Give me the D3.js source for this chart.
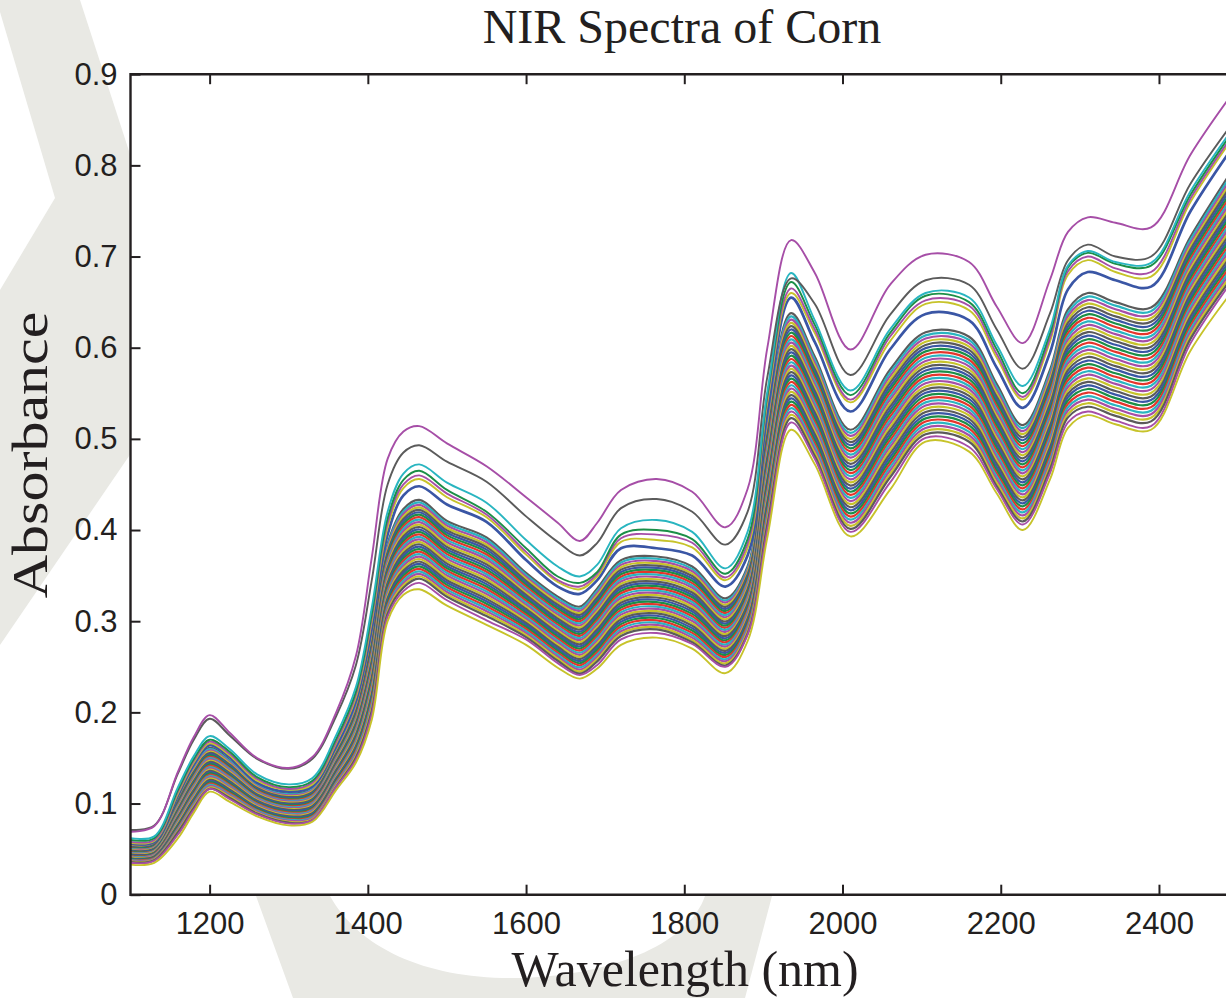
<!DOCTYPE html>
<html>
<head>
<meta charset="utf-8">
<script src="https://cdn.jsdelivr.net/npm/d3@7"></script>
<style>
  body { margin: 0; background: #fff; }
  svg { display: block; }
</style>
</head>
<body>
<div id="chart"></div>
<script>

var wavelengths = [1100,1130,1160,1180,1200,1225,1260,1300,1330,1360,1385,1405,1425,1445,1465,1500,1550,1600,1640,1668,1690,1720,1765,1810,1852,1880,1905,1935,1965,2010,2060,2105,2160,2195,2228,2262,2285,2310,2345,2390,2440,2498];

// the separated spectra at the top
var spec01 = [0.069,0.075,0.135,0.173,0.197,0.178,0.150,0.139,0.151,0.200,0.262,0.370,0.478,0.508,0.514,0.495,0.470,0.436,0.408,0.388,0.408,0.444,0.456,0.442,0.403,0.445,0.600,0.718,0.682,0.598,0.669,0.702,0.694,0.645,0.605,0.674,0.727,0.743,0.737,0.732,0.812,0.885];
var spec02 = [0.071,0.076,0.133,0.170,0.193,0.175,0.149,0.138,0.149,0.196,0.252,0.345,0.450,0.485,0.493,0.475,0.453,0.415,0.387,0.372,0.386,0.424,0.434,0.420,0.384,0.420,0.568,0.676,0.648,0.570,0.636,0.674,0.669,0.620,0.577,0.637,0.696,0.713,0.700,0.700,0.780,0.852];
var spec03 = [0.062,0.064,0.118,0.152,0.174,0.160,0.132,0.121,0.128,0.175,0.228,0.315,0.420,0.462,0.472,0.452,0.430,0.389,0.360,0.349,0.362,0.402,0.411,0.398,0.358,0.398,0.552,0.682,0.630,0.553,0.620,0.660,0.655,0.603,0.558,0.620,0.690,0.706,0.694,0.693,0.772,0.846];
var spec04 = [0.060,0.062,0.115,0.149,0.170,0.157,0.129,0.118,0.125,0.171,0.223,0.308,0.413,0.455,0.465,0.444,0.420,0.380,0.349,0.342,0.354,0.395,0.400,0.390,0.352,0.390,0.548,0.672,0.625,0.548,0.616,0.657,0.650,0.598,0.550,0.615,0.688,0.704,0.692,0.690,0.768,0.843];
var spec05 = [0.058,0.060,0.113,0.147,0.168,0.155,0.127,0.116,0.123,0.168,0.220,0.304,0.408,0.450,0.460,0.440,0.417,0.376,0.345,0.338,0.352,0.391,0.395,0.386,0.348,0.385,0.545,0.665,0.620,0.543,0.612,0.652,0.646,0.593,0.546,0.610,0.684,0.700,0.687,0.683,0.764,0.839];
var spec06 = [0.057,0.059,0.111,0.145,0.166,0.153,0.125,0.115,0.121,0.166,0.217,0.300,0.403,0.446,0.456,0.436,0.414,0.373,0.343,0.335,0.349,0.387,0.389,0.381,0.345,0.380,0.540,0.660,0.616,0.540,0.607,0.648,0.641,0.589,0.543,0.606,0.680,0.696,0.683,0.678,0.760,0.836];
var spec07 = [0.056,0.058,0.109,0.143,0.164,0.151,0.123,0.113,0.119,0.163,0.213,0.293,0.395,0.438,0.448,0.428,0.409,0.367,0.338,0.330,0.345,0.380,0.380,0.372,0.338,0.372,0.530,0.655,0.606,0.530,0.598,0.637,0.630,0.578,0.534,0.594,0.664,0.683,0.674,0.667,0.750,0.826];

// the dense band, top to bottom
var spec08 = [0.055,0.057,0.107,0.140,0.161,0.148,0.121,0.111,0.117,0.160,0.208,0.285,0.385,0.423,0.433,0.410,0.392,0.353,0.327,0.316,0.336,0.367,0.371,0.360,0.325,0.360,0.518,0.638,0.590,0.510,0.576,0.617,0.612,0.560,0.515,0.575,0.642,0.660,0.650,0.644,0.722,0.802];
var spec09 = [0.0544,0.0564,0.1058,0.1386,0.1596,0.1467,0.1200,0.1100,0.1159,0.1587,0.2062,0.2824,0.3826,0.4203,0.4303,0.4074,0.3893,0.3508,0.3248,0.3137,0.3335,0.3644,0.3685,0.3574,0.3227,0.3577,0.5145,0.6344,0.5866,0.5066,0.5723,0.6135,0.6084,0.5565,0.5117,0.5716,0.6383,0.6561,0.6461,0.6401,0.7185,0.7983];
var spec10 = [0.0538,0.0558,0.1046,0.1372,0.1582,0.1454,0.1190,0.1090,0.1148,0.1574,0.2044,0.2798,0.3802,0.4176,0.4276,0.4048,0.3866,0.3486,0.3226,0.3114,0.3310,0.3618,0.3660,0.3548,0.3204,0.3554,0.5110,0.6308,0.5832,0.5032,0.5686,0.6100,0.6048,0.5530,0.5084,0.5682,0.6346,0.6522,0.6422,0.6362,0.7150,0.7946];
var spec11 = [0.0532,0.0552,0.1034,0.1358,0.1568,0.1441,0.1180,0.1080,0.1137,0.1561,0.2026,0.2772,0.3778,0.4149,0.4249,0.4022,0.3839,0.3464,0.3204,0.3091,0.3285,0.3592,0.3635,0.3522,0.3181,0.3531,0.5075,0.6272,0.5798,0.4998,0.5649,0.6065,0.6012,0.5495,0.5051,0.5648,0.6309,0.6483,0.6383,0.6323,0.7115,0.7909];
var spec12 = [0.0526,0.0546,0.1022,0.1344,0.1554,0.1428,0.1170,0.1070,0.1126,0.1548,0.2008,0.2746,0.3754,0.4122,0.4222,0.3996,0.3812,0.3442,0.3182,0.3068,0.3260,0.3566,0.3610,0.3496,0.3158,0.3508,0.5040,0.6236,0.5764,0.4964,0.5612,0.6030,0.5976,0.5460,0.5018,0.5614,0.6272,0.6444,0.6344,0.6284,0.7080,0.7872];
var spec13 = [0.0520,0.0540,0.1010,0.1330,0.1540,0.1415,0.1160,0.1060,0.1115,0.1535,0.1990,0.2720,0.3730,0.4095,0.4195,0.3970,0.3785,0.3420,0.3160,0.3045,0.3235,0.3540,0.3585,0.3470,0.3135,0.3485,0.5005,0.6200,0.5730,0.4930,0.5575,0.5995,0.5940,0.5425,0.4985,0.5580,0.6235,0.6405,0.6305,0.6245,0.7045,0.7835];
var spec14 = [0.0514,0.0534,0.0998,0.1316,0.1526,0.1402,0.1150,0.1050,0.1104,0.1522,0.1972,0.2694,0.3706,0.4068,0.4168,0.3944,0.3758,0.3398,0.3138,0.3022,0.3210,0.3514,0.3560,0.3444,0.3112,0.3462,0.4970,0.6164,0.5696,0.4896,0.5538,0.5960,0.5904,0.5390,0.4952,0.5546,0.6198,0.6366,0.6266,0.6206,0.7010,0.7798];
var spec15 = [0.0508,0.0528,0.0986,0.1302,0.1512,0.1389,0.1140,0.1040,0.1093,0.1509,0.1954,0.2668,0.3682,0.4041,0.4141,0.3918,0.3731,0.3376,0.3116,0.2999,0.3185,0.3488,0.3535,0.3418,0.3089,0.3439,0.4935,0.6128,0.5662,0.4862,0.5501,0.5925,0.5868,0.5355,0.4919,0.5512,0.6161,0.6327,0.6227,0.6167,0.6975,0.7761];
var spec16 = [0.0502,0.0522,0.0974,0.1288,0.1498,0.1376,0.1130,0.1030,0.1082,0.1496,0.1936,0.2642,0.3658,0.4014,0.4114,0.3892,0.3704,0.3354,0.3094,0.2976,0.3160,0.3462,0.3510,0.3392,0.3066,0.3416,0.4900,0.6092,0.5628,0.4828,0.5464,0.5890,0.5832,0.5320,0.4886,0.5478,0.6124,0.6288,0.6188,0.6128,0.6940,0.7724];
var spec17 = [0.0496,0.0516,0.0962,0.1274,0.1484,0.1363,0.1120,0.1020,0.1071,0.1483,0.1918,0.2616,0.3634,0.3987,0.4087,0.3866,0.3677,0.3332,0.3072,0.2953,0.3135,0.3436,0.3485,0.3366,0.3043,0.3393,0.4865,0.6056,0.5594,0.4794,0.5427,0.5855,0.5796,0.5285,0.4853,0.5444,0.6087,0.6249,0.6149,0.6089,0.6905,0.7687];
var spec18 = [0.0490,0.0510,0.0950,0.1260,0.1470,0.1350,0.1110,0.1010,0.1060,0.1470,0.1900,0.2590,0.3610,0.3960,0.4060,0.3840,0.3650,0.3310,0.3050,0.2930,0.3110,0.3410,0.3460,0.3340,0.3020,0.3370,0.4830,0.6020,0.5560,0.4760,0.5390,0.5820,0.5760,0.5250,0.4820,0.5410,0.6050,0.6210,0.6110,0.6050,0.6870,0.7650];
var spec19 = [0.0484,0.0504,0.0938,0.1246,0.1456,0.1337,0.1100,0.1000,0.1049,0.1457,0.1882,0.2564,0.3586,0.3933,0.4033,0.3814,0.3623,0.3288,0.3028,0.2907,0.3085,0.3384,0.3435,0.3314,0.2997,0.3347,0.4795,0.5984,0.5526,0.4726,0.5353,0.5785,0.5724,0.5215,0.4787,0.5376,0.6013,0.6171,0.6071,0.6011,0.6835,0.7613];
var spec20 = [0.0478,0.0498,0.0926,0.1232,0.1442,0.1324,0.1090,0.0990,0.1038,0.1444,0.1864,0.2538,0.3562,0.3906,0.4006,0.3788,0.3596,0.3266,0.3006,0.2884,0.3060,0.3358,0.3410,0.3288,0.2974,0.3324,0.4760,0.5948,0.5492,0.4692,0.5316,0.5750,0.5688,0.5180,0.4754,0.5342,0.5976,0.6132,0.6032,0.5972,0.6800,0.7576];
var spec21 = [0.0472,0.0492,0.0914,0.1218,0.1428,0.1311,0.1080,0.0980,0.1027,0.1431,0.1846,0.2512,0.3538,0.3879,0.3979,0.3762,0.3569,0.3244,0.2984,0.2861,0.3035,0.3332,0.3385,0.3262,0.2951,0.3301,0.4725,0.5912,0.5458,0.4658,0.5279,0.5715,0.5652,0.5145,0.4721,0.5308,0.5939,0.6093,0.5993,0.5933,0.6765,0.7539];
var spec22 = [0.0466,0.0486,0.0902,0.1204,0.1414,0.1298,0.1070,0.0970,0.1016,0.1418,0.1828,0.2486,0.3514,0.3852,0.3952,0.3736,0.3542,0.3222,0.2962,0.2838,0.3010,0.3306,0.3360,0.3236,0.2928,0.3278,0.4690,0.5876,0.5424,0.4624,0.5242,0.5680,0.5616,0.5110,0.4688,0.5274,0.5902,0.6054,0.5954,0.5894,0.6730,0.7502];
var spec23 = [0.0460,0.0480,0.0890,0.1190,0.1400,0.1285,0.1060,0.0960,0.1005,0.1405,0.1810,0.2460,0.3490,0.3825,0.3925,0.3710,0.3515,0.3200,0.2940,0.2815,0.2985,0.3280,0.3335,0.3210,0.2905,0.3255,0.4655,0.5840,0.5390,0.4590,0.5205,0.5645,0.5580,0.5075,0.4655,0.5240,0.5865,0.6015,0.5915,0.5855,0.6695,0.7465];
var spec24 = [0.0454,0.0474,0.0878,0.1176,0.1386,0.1272,0.1050,0.0950,0.0994,0.1392,0.1792,0.2434,0.3466,0.3798,0.3898,0.3684,0.3488,0.3178,0.2918,0.2792,0.2960,0.3254,0.3310,0.3184,0.2882,0.3232,0.4620,0.5804,0.5356,0.4556,0.5168,0.5610,0.5544,0.5040,0.4622,0.5206,0.5828,0.5976,0.5876,0.5816,0.6660,0.7428];
var spec25 = [0.0448,0.0468,0.0866,0.1162,0.1372,0.1259,0.1040,0.0940,0.0983,0.1379,0.1774,0.2408,0.3442,0.3771,0.3871,0.3658,0.3461,0.3156,0.2896,0.2769,0.2935,0.3228,0.3285,0.3158,0.2859,0.3209,0.4585,0.5768,0.5322,0.4522,0.5131,0.5575,0.5508,0.5005,0.4589,0.5172,0.5791,0.5937,0.5837,0.5777,0.6625,0.7391];
var spec26 = [0.0442,0.0462,0.0854,0.1148,0.1358,0.1246,0.1030,0.0930,0.0972,0.1366,0.1756,0.2382,0.3418,0.3744,0.3844,0.3632,0.3434,0.3134,0.2874,0.2746,0.2910,0.3202,0.3260,0.3132,0.2836,0.3186,0.4550,0.5732,0.5288,0.4488,0.5094,0.5540,0.5472,0.4970,0.4556,0.5138,0.5754,0.5898,0.5798,0.5738,0.6590,0.7354];
var spec27 = [0.0436,0.0456,0.0842,0.1134,0.1344,0.1233,0.1020,0.0920,0.0961,0.1353,0.1738,0.2356,0.3394,0.3717,0.3817,0.3606,0.3407,0.3112,0.2852,0.2723,0.2885,0.3176,0.3235,0.3106,0.2813,0.3163,0.4515,0.5696,0.5254,0.4454,0.5057,0.5505,0.5436,0.4935,0.4523,0.5104,0.5717,0.5859,0.5759,0.5699,0.6555,0.7317];
var spec28 = [0.0430,0.0450,0.0830,0.1120,0.1330,0.1220,0.1010,0.0910,0.0950,0.1340,0.1720,0.2330,0.3370,0.3690,0.3790,0.3580,0.3380,0.3090,0.2830,0.2700,0.2860,0.3150,0.3210,0.3080,0.2790,0.3140,0.4480,0.5660,0.5220,0.4420,0.5020,0.5470,0.5400,0.4900,0.4490,0.5070,0.5680,0.5820,0.5720,0.5660,0.6520,0.7280];
var spec29 = [0.0424,0.0444,0.0818,0.1106,0.1316,0.1207,0.1000,0.0900,0.0939,0.1327,0.1702,0.2304,0.3346,0.3663,0.3763,0.3554,0.3353,0.3068,0.2808,0.2677,0.2835,0.3124,0.3185,0.3054,0.2767,0.3117,0.4445,0.5624,0.5186,0.4386,0.4983,0.5435,0.5364,0.4865,0.4457,0.5036,0.5643,0.5781,0.5681,0.5621,0.6485,0.7243];
var spec30 = [0.0418,0.0438,0.0806,0.1092,0.1302,0.1194,0.0990,0.0890,0.0928,0.1314,0.1684,0.2278,0.3322,0.3636,0.3736,0.3528,0.3326,0.3046,0.2786,0.2654,0.2810,0.3098,0.3160,0.3028,0.2744,0.3094,0.4410,0.5588,0.5152,0.4352,0.4946,0.5400,0.5328,0.4830,0.4424,0.5002,0.5606,0.5742,0.5642,0.5582,0.6450,0.7206];
var spec31 = [0.0412,0.0432,0.0794,0.1078,0.1288,0.1181,0.0980,0.0880,0.0917,0.1301,0.1666,0.2252,0.3298,0.3609,0.3709,0.3502,0.3299,0.3024,0.2764,0.2631,0.2785,0.3072,0.3135,0.3002,0.2721,0.3071,0.4375,0.5552,0.5118,0.4318,0.4909,0.5365,0.5292,0.4795,0.4391,0.4968,0.5569,0.5703,0.5603,0.5543,0.6415,0.7169];
var spec32 = [0.0406,0.0426,0.0782,0.1064,0.1274,0.1168,0.0970,0.0870,0.0906,0.1288,0.1648,0.2226,0.3274,0.3582,0.3682,0.3476,0.3272,0.3002,0.2742,0.2608,0.2760,0.3046,0.3110,0.2976,0.2698,0.3048,0.4340,0.5516,0.5084,0.4284,0.4872,0.5330,0.5256,0.4760,0.4358,0.4934,0.5532,0.5664,0.5564,0.5504,0.6380,0.7132];
var spec33 = [0.0400,0.0420,0.0770,0.1050,0.1260,0.1155,0.0960,0.0860,0.0895,0.1275,0.1630,0.2200,0.3250,0.3555,0.3655,0.3450,0.3245,0.2980,0.2720,0.2585,0.2735,0.3020,0.3085,0.2950,0.2675,0.3025,0.4305,0.5480,0.5050,0.4250,0.4835,0.5295,0.5220,0.4725,0.4325,0.4900,0.5495,0.5625,0.5525,0.5465,0.6345,0.7095];
var spec34 = [0.0394,0.0414,0.0758,0.1036,0.1246,0.1142,0.0950,0.0850,0.0884,0.1262,0.1612,0.2174,0.3226,0.3528,0.3628,0.3424,0.3218,0.2958,0.2698,0.2562,0.2710,0.2994,0.3060,0.2924,0.2652,0.3002,0.4270,0.5444,0.5016,0.4216,0.4798,0.5260,0.5184,0.4690,0.4292,0.4866,0.5458,0.5586,0.5486,0.5426,0.6310,0.7058];
var spec35 = [0.0388,0.0408,0.0746,0.1022,0.1232,0.1129,0.0940,0.0840,0.0873,0.1249,0.1594,0.2148,0.3202,0.3501,0.3601,0.3398,0.3191,0.2936,0.2676,0.2539,0.2685,0.2968,0.3035,0.2898,0.2629,0.2979,0.4235,0.5408,0.4982,0.4182,0.4761,0.5225,0.5148,0.4655,0.4259,0.4832,0.5421,0.5547,0.5447,0.5387,0.6275,0.7021];
var spec36 = [0.0382,0.0402,0.0734,0.1008,0.1218,0.1116,0.0930,0.0830,0.0862,0.1236,0.1576,0.2122,0.3178,0.3474,0.3574,0.3372,0.3164,0.2914,0.2654,0.2516,0.2660,0.2942,0.3010,0.2872,0.2606,0.2956,0.4200,0.5372,0.4948,0.4148,0.4724,0.5190,0.5112,0.4620,0.4226,0.4798,0.5384,0.5508,0.5408,0.5348,0.6240,0.6984];
var spec37 = [0.0376,0.0396,0.0722,0.0994,0.1204,0.1103,0.0920,0.0820,0.0851,0.1223,0.1558,0.2096,0.3154,0.3447,0.3547,0.3346,0.3137,0.2892,0.2632,0.2493,0.2635,0.2916,0.2985,0.2846,0.2583,0.2933,0.4165,0.5336,0.4914,0.4114,0.4687,0.5155,0.5076,0.4585,0.4193,0.4764,0.5347,0.5469,0.5369,0.5309,0.6205,0.6947];
var spec38 = [0.0370,0.0390,0.0710,0.0980,0.1190,0.1090,0.0910,0.0810,0.0840,0.1210,0.1540,0.2070,0.3130,0.3420,0.3520,0.3320,0.3110,0.2870,0.2610,0.2470,0.2610,0.2890,0.2960,0.2820,0.2560,0.2910,0.4130,0.5300,0.4880,0.4080,0.4650,0.5120,0.5040,0.4550,0.4160,0.4730,0.5310,0.5430,0.5330,0.5270,0.6170,0.6910];
var spec39 = [0.0364,0.0384,0.0698,0.0966,0.1176,0.1077,0.0900,0.0800,0.0829,0.1197,0.1522,0.2044,0.3106,0.3393,0.3493,0.3294,0.3083,0.2848,0.2588,0.2447,0.2585,0.2864,0.2935,0.2794,0.2537,0.2887,0.4095,0.5264,0.4846,0.4046,0.4613,0.5085,0.5004,0.4515,0.4127,0.4696,0.5273,0.5391,0.5291,0.5231,0.6135,0.6873];
var spec40 = [0.0358,0.0378,0.0686,0.0952,0.1162,0.1064,0.0890,0.0790,0.0818,0.1184,0.1504,0.2018,0.3082,0.3366,0.3466,0.3268,0.3056,0.2826,0.2566,0.2424,0.2560,0.2838,0.2910,0.2768,0.2514,0.2864,0.4060,0.5228,0.4812,0.4012,0.4576,0.5050,0.4968,0.4480,0.4094,0.4662,0.5236,0.5352,0.5252,0.5192,0.6100,0.6836];

// the two lowest spectra
var spec41 = [0.035,0.037,0.066,0.093,0.116,0.105,0.088,0.078,0.082,0.118,0.148,0.198,0.305,0.333,0.342,0.323,0.301,0.280,0.254,0.241,0.252,0.280,0.287,0.275,0.250,0.285,0.400,0.518,0.478,0.398,0.452,0.501,0.491,0.445,0.406,0.462,0.518,0.530,0.520,0.514,0.605,0.680];
var spec42 = [0.033,0.035,0.062,0.090,0.113,0.102,0.086,0.076,0.080,0.115,0.145,0.192,0.300,0.329,0.335,0.317,0.296,0.274,0.249,0.237,0.248,0.274,0.282,0.270,0.243,0.278,0.392,0.510,0.472,0.393,0.444,0.497,0.486,0.440,0.400,0.455,0.512,0.526,0.516,0.510,0.597,0.668];

var xTicks = [1200, 1400, 1600, 1800, 2000, 2200, 2400];
var yTicks = [0, 0.1, 0.2, 0.3, 0.4, 0.5, 0.6, 0.7, 0.8, 0.9];

// matlab style colour order
var blue = "#3a56a5", green = "#1b8f47", red = "#e5352c", cyan = "#29b5c0",
    magenta = "#a64ea7", yellow = "#c7c32a", black = "#5b5b5b";
var colorOrder = [blue, green, red, cyan, magenta, yellow, black];

var bandLines = [spec08, spec09, spec10, spec11, spec12, spec13, spec14, spec15, spec16, spec17,
                 spec18, spec19, spec20, spec21, spec22, spec23, spec24, spec25, spec26, spec27,
                 spec28, spec29, spec30, spec31, spec32, spec33, spec34, spec35, spec36, spec37,
                 spec38, spec39, spec40];

var series = [];
bandLines.forEach(function(s, i) {
  series.push({values: s, color: i == 0 ? black : colorOrder[(i + 2) % 7], w: 2.2});
});
series.push({values: spec41, color: magenta, w: 1.9});
series.push({values: spec42, color: yellow, w: 1.9});
series.push({values: spec07, color: blue, w: 2.7});
series.push({values: spec06, color: yellow, w: 1.9});
series.push({values: spec05, color: magenta, w: 1.9});
series.push({values: spec04, color: green, w: 1.9});
series.push({values: spec03, color: cyan, w: 1.9});
series.push({values: spec02, color: black, w: 1.9});
series.push({values: spec01, color: magenta, w: 1.9});

var W = 1226, H = 998;
var plotL = 130.5, plotR = 1236.5, plotT = 74.2, plotB = 894.7;
var ink = "#231f20";

var svg = d3.select("#chart").append("svg")
    .attr("width", W)
    .attr("height", H);

svg.append("rect").attr("width", W).attr("height", H).attr("fill", "#fff");

// faint logo behind the figure
svg.append("path")
    .attr("d", "M0,0 L80,0 L140,185 L140,440 L0,645 L0,290 L55,198 L0,12 Z")
    .attr("fill", "#e9e9e4");
svg.append("path")
    .attr("d", "M256,896 L293,998 L745,998 L772,896 L705,896 C690,940 620,975 520,978 C430,980 360,950 330,896 Z")
    .attr("fill", "#e9e9e4");

// white axes background
svg.append("rect")
    .attr("x", plotL).attr("y", plotT)
    .attr("width", plotR - plotL).attr("height", plotB - plotT)
    .attr("fill", "#fff");

var x = d3.scaleLinear().domain([1100, 2498]).range([plotL, plotR]);
var y = d3.scaleLinear().domain([0, 0.9]).range([plotB, plotT]);

svg.append("clipPath").attr("id", "plotClip")
  .append("rect")
    .attr("x", plotL).attr("y", plotT)
    .attr("width", plotR - plotL).attr("height", plotB - plotT);

var line = d3.line()
    .x(function(d, i) { return x(wavelengths[i]); })
    .y(function(d) { return y(d); })
    .curve(d3.curveCatmullRom.alpha(0.5));

svg.append("g")
    .attr("clip-path", "url(#plotClip)")
  .selectAll("path")
  .data(series)
  .enter()
  .append("path")
    .attr("d", function(d) { return line(d.values); })
    .attr("fill", "none")
    .attr("stroke", function(d) { return d.color; })
    .attr("stroke-width", function(d) { return d.w; })
    .attr("stroke-linejoin", "round");

// axes, ticks point inwards
var yAxis = svg.append("g")
    .attr("transform", "translate(" + plotL + ",0)")
    .call(d3.axisLeft(y).tickValues(yTicks).tickSize(-10).tickPadding(13)
      .tickFormat(function(d) { return d === 0 ? "0" : d3.format(".1f")(d); }));

var xAxis = svg.append("g")
    .attr("transform", "translate(0," + plotB + ")")
    .call(d3.axisBottom(x).tickValues(xTicks).tickSize(-10).tickPadding(17)
      .tickFormat(d3.format("d")));

var xTop = svg.append("g")
    .attr("transform", "translate(0," + plotT + ")")
    .call(d3.axisTop(x).tickValues(xTicks).tickSize(-10).tickFormat(""));

[yAxis, xAxis, xTop].forEach(function(a) {
  a.select(".domain").remove();
  a.selectAll(".tick line").attr("stroke", ink).attr("stroke-width", 2);
  a.selectAll(".tick text")
    .attr("fill", ink)
    .style("font-family", "'Liberation Sans', Arial, sans-serif")
    .style("font-size", "31px");
});

// box
svg.append("path")
    .attr("d", "M" + plotR + "," + plotT + " L" + plotL + "," + plotT + " L" + plotL + "," + plotB + " L" + plotR + "," + plotB)
    .attr("fill", "none")
    .attr("stroke", ink)
    .attr("stroke-width", 2.4);

// title and labels
svg.append("text")
    .attr("x", 682)
    .attr("y", 43)
    .attr("text-anchor", "middle")
    .attr("fill", ink)
    .style("font-family", "'Liberation Serif', 'Times New Roman', serif")
    .style("font-size", "48px")
    .text("NIR Spectra of Corn");

svg.append("text")
    .attr("x", 685)
    .attr("y", 986)
    .attr("text-anchor", "middle")
    .attr("fill", ink)
    .style("font-family", "'Liberation Serif', 'Times New Roman', serif")
    .style("font-size", "50px")
    .text("Wavelength (nm)");

svg.append("text")
    .attr("transform", "translate(47,455) rotate(-90) scale(1.2,1)")
    .attr("text-anchor", "middle")
    .attr("fill", ink)
    .style("font-family", "'Liberation Serif', 'Times New Roman', serif")
    .style("font-size", "50px")
    .text("Absorbance");

</script>
</body>
</html>
